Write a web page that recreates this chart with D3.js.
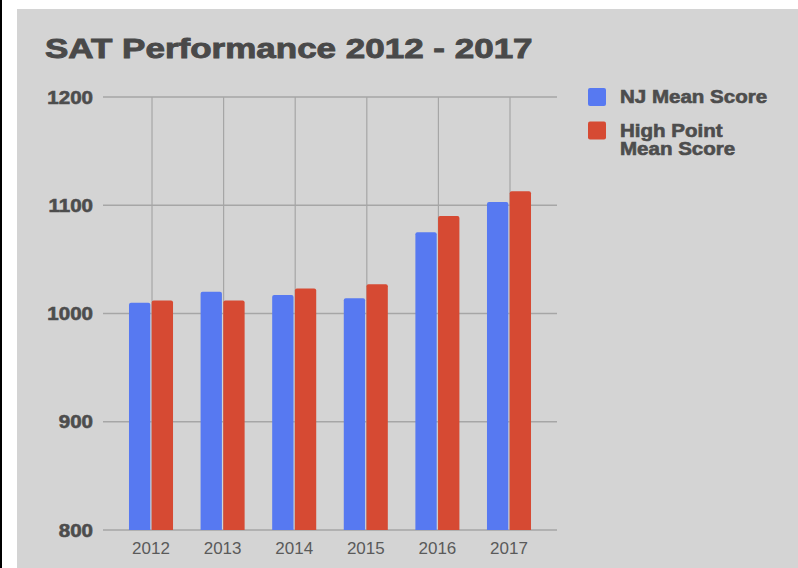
<!DOCTYPE html>
<html>
<head>
<meta charset="utf-8">
<script src="https://cdn.jsdelivr.net/npm/d3@7"></script>
<style>
  body { margin: 0; background: #fff; }
  svg { display: block; }
</style>
</head>
<body>
<div id="chart"></div>
<script>
// chart data
const years = ["2012", "2013", "2014", "2015", "2016", "2017"]
const seriesNames = ["NJ Mean Score", "High Point Mean Score"]
const njScores = [1010, 1020, 1017, 1014, 1075, 1103]
const highPointScores = [1012, 1012, 1023, 1027, 1090, 1113]
const yTicks = [800, 900, 1000, 1100, 1200]

const colors = ["#5779F1", "#D64A33"]
const width = 798
const height = 568

const svg = d3.select("#chart")
	.append("svg")
	.attr("width", width)
	.attr("height", height)

// frame: black edge, white margin, gray panel
svg.append("rect").attr("x", 0).attr("y", 0).attr("width", 2).attr("height", height).attr("fill", "#000")
svg.append("rect").attr("x", 17).attr("y", 9).attr("width", width - 17).attr("height", height - 9).attr("fill", "#d4d4d4")

const plot = { left: 103, right: 557, top: 97, bottom: 530 }

const y = d3.scaleLinear().domain([800, 1200]).range([plot.bottom, plot.top])
const x = d3.scaleBand().domain(years).range([plot.left, plot.right])
	.paddingInner(0.385).paddingOuter(0.363)
const x1 = d3.scaleBand().domain(seriesNames).range([0, x.bandwidth()]).paddingInner(0.06)

// title (heavier weight via a thin stroke)
svg.append("text")
	.attr("transform", "translate(45,58) scale(1.25,1)")
	.attr("font-family", "Liberation Sans, Arial, sans-serif")
	.attr("font-weight", "bold")
	.attr("font-size", 28)
	.attr("fill", "#494949")
	.attr("stroke", "#494949")
	.attr("stroke-width", 0.9)
	.text("SAT Performance 2012 - 2017")

// horizontal grid
svg.append("g")
	.selectAll("line")
	.data(yTicks)
	.enter()
	.append("line")
	.attr("x1", plot.left)
	.attr("x2", plot.right)
	.attr("y1", d => y(d))
	.attr("y2", d => y(d))
	.attr("stroke", "#a6a6a6")
	.attr("stroke-width", 1.5)

// vertical grid at category centers
svg.append("g")
	.selectAll("line")
	.data(years)
	.enter()
	.append("line")
	.attr("x1", d => x(d) + x.bandwidth() / 2 + 1)
	.attr("x2", d => x(d) + x.bandwidth() / 2 + 1)
	.attr("y1", plot.top)
	.attr("y2", plot.bottom)
	.attr("stroke", "#a6a6a6")
	.attr("stroke-width", 1.2)

// y labels
svg.append("g")
	.selectAll("text")
	.data(yTicks)
	.enter()
	.append("text")
	.attr("transform", d => `translate(93,${y(d) + 6.5}) scale(1.14,1)`)
	.attr("text-anchor", "end")
	.attr("font-family", "Liberation Sans, Arial, sans-serif")
	.attr("font-weight", "bold")
	.attr("font-size", 18)
	.attr("fill", "#4d4d4d")
	.attr("stroke", "#4d4d4d")
	.attr("stroke-width", 0.6)
	.text(d => d)

// bars
const rows = years.map((yr, i) => ({ year: yr, values: [njScores[i], highPointScores[i]] }))

const groups = svg.append("g")
	.selectAll("g")
	.data(rows)
	.enter()
	.append("g")
	.attr("transform", d => `translate(${x(d.year)},0)`)

groups.selectAll("path")
	.data(d => d.values.map((v, k) => ({ name: seriesNames[k], value: v, k: k })))
	.enter()
	.append("path")
	.attr("fill", d => colors[d.k])
	.attr("d", d => {
		const bx = x1(d.name), bw = x1.bandwidth()
		const top = y(d.value), bot = y(800), r = 2
		return `M${bx},${bot}V${top + r}Q${bx},${top} ${bx + r},${top}H${bx + bw - r}Q${bx + bw},${top} ${bx + bw},${top + r}V${bot}Z`
	})

// x labels
svg.append("g")
	.selectAll("text")
	.data(years)
	.enter()
	.append("text")
	.attr("x", d => x(d) + x.bandwidth() / 2)
	.attr("y", 554)
	.attr("text-anchor", "middle")
	.attr("font-family", "Liberation Sans, Arial, sans-serif")
	.attr("font-size", 17)
	.attr("fill", "#5a5a5a")
	.text(d => d)

// legend
const legendLines = [["NJ Mean Score"], ["High Point", "Mean Score"]]
const legend = svg.append("g")
	.selectAll("g")
	.data(legendLines)
	.enter()
	.append("g")
	.attr("transform", (d, i) => `translate(588,${88 + i * 33.5})`)

legend.append("rect")
	.attr("width", 18)
	.attr("height", 18)
	.attr("rx", 2)
	.attr("fill", (d, i) => colors[i])

legend.each(function (d) {
	const g = d3.select(this)
	d.forEach((line, j) => {
		g.append("text")
			.attr("transform", `translate(32,${15 + j * 18.5}) scale(1.14,1)`)
			.attr("font-family", "Liberation Sans, Arial, sans-serif")
			.attr("font-weight", "bold")
			.attr("font-size", 18)
			.attr("fill", "#4d4d4d")
			.attr("stroke", "#4d4d4d")
			.attr("stroke-width", 0.6)
			.text(line)
	})
})
</script>
</body>
</html>
